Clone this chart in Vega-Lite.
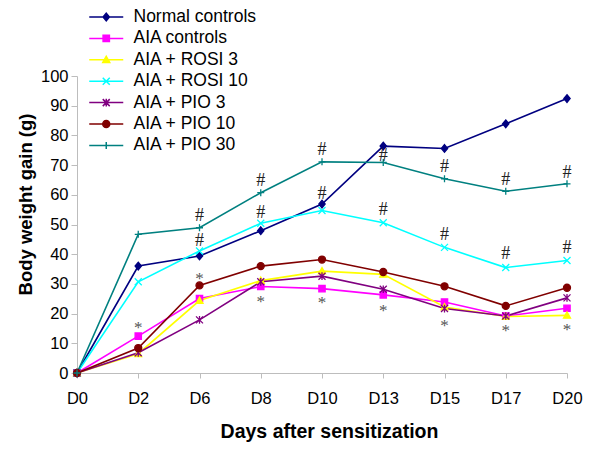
{
  "$schema": "https://vega.github.io/schema/vega-lite/v6.json",
  "autosize": {"type": "none"},
  "padding": {"left": 77, "top": 76, "right": 33, "bottom": 77},
  "width": 490,
  "height": 297,
  "background": "white",
  "config": {
    "view": {"stroke": null},
    "font": "Liberation Sans",
    "legend": {
      "orient": "none",
      "legendX": 20.5,
      "legendY": -67.75,
      "padding": 0,
      "labelFont": "Liberation Sans",
      "labelFontSize": 17.5,
      "labelColor": "#000000",
      "labelOffset": 18.5,
      "rowPadding": 2.4,
      "symbolSize": 49,
      "symbolStrokeWidth": 1.5,
      "symbolOpacity": 1
    }
  },
  "datasets": {
    "weights": [
      {"day": "D0", "series": "Normal controls", "value": 0},
      {"day": "D2", "series": "Normal controls", "value": 36.0},
      {"day": "D6", "series": "Normal controls", "value": 39.4},
      {"day": "D8", "series": "Normal controls", "value": 47.9},
      {"day": "D10", "series": "Normal controls", "value": 56.9},
      {"day": "D13", "series": "Normal controls", "value": 76.4},
      {"day": "D15", "series": "Normal controls", "value": 75.6},
      {"day": "D17", "series": "Normal controls", "value": 83.9},
      {"day": "D20", "series": "Normal controls", "value": 92.4},
      {"day": "D0", "series": "AIA controls", "value": 0},
      {"day": "D2", "series": "AIA controls", "value": 12.4},
      {"day": "D6", "series": "AIA controls", "value": 25.1},
      {"day": "D8", "series": "AIA controls", "value": 29.1},
      {"day": "D10", "series": "AIA controls", "value": 28.4},
      {"day": "D13", "series": "AIA controls", "value": 26.3},
      {"day": "D15", "series": "AIA controls", "value": 23.9},
      {"day": "D17", "series": "AIA controls", "value": 19.2},
      {"day": "D20", "series": "AIA controls", "value": 21.8},
      {"day": "D0", "series": "AIA + ROSI 3", "value": 0},
      {"day": "D2", "series": "AIA + ROSI 3", "value": 6.5},
      {"day": "D6", "series": "AIA + ROSI 3", "value": 24.4},
      {"day": "D8", "series": "AIA + ROSI 3", "value": 31.1},
      {"day": "D10", "series": "AIA + ROSI 3", "value": 34.3},
      {"day": "D13", "series": "AIA + ROSI 3", "value": 33.2},
      {"day": "D15", "series": "AIA + ROSI 3", "value": 22.2},
      {"day": "D17", "series": "AIA + ROSI 3", "value": 19.0},
      {"day": "D20", "series": "AIA + ROSI 3", "value": 19.4},
      {"day": "D0", "series": "AIA + ROSI 10", "value": 0},
      {"day": "D2", "series": "AIA + ROSI 10", "value": 30.7},
      {"day": "D6", "series": "AIA + ROSI 10", "value": 41.1},
      {"day": "D8", "series": "AIA + ROSI 10", "value": 50.4},
      {"day": "D10", "series": "AIA + ROSI 10", "value": 54.7},
      {"day": "D13", "series": "AIA + ROSI 10", "value": 50.6},
      {"day": "D15", "series": "AIA + ROSI 10", "value": 42.3},
      {"day": "D17", "series": "AIA + ROSI 10", "value": 35.5},
      {"day": "D20", "series": "AIA + ROSI 10", "value": 37.9},
      {"day": "D0", "series": "AIA + PIO 3", "value": 0},
      {"day": "D2", "series": "AIA + PIO 3", "value": 6.8},
      {"day": "D6", "series": "AIA + PIO 3", "value": 17.9},
      {"day": "D8", "series": "AIA + PIO 3", "value": 30.7},
      {"day": "D10", "series": "AIA + PIO 3", "value": 32.6},
      {"day": "D13", "series": "AIA + PIO 3", "value": 28.2},
      {"day": "D15", "series": "AIA + PIO 3", "value": 21.7},
      {"day": "D17", "series": "AIA + PIO 3", "value": 19.2},
      {"day": "D20", "series": "AIA + PIO 3", "value": 25.3},
      {"day": "D0", "series": "AIA + PIO 10", "value": 0},
      {"day": "D2", "series": "AIA + PIO 10", "value": 8.4},
      {"day": "D6", "series": "AIA + PIO 10", "value": 29.5},
      {"day": "D8", "series": "AIA + PIO 10", "value": 36.0},
      {"day": "D10", "series": "AIA + PIO 10", "value": 38.2},
      {"day": "D13", "series": "AIA + PIO 10", "value": 34.0},
      {"day": "D15", "series": "AIA + PIO 10", "value": 29.2},
      {"day": "D17", "series": "AIA + PIO 10", "value": 22.6},
      {"day": "D20", "series": "AIA + PIO 10", "value": 28.7},
      {"day": "D0", "series": "AIA + PIO 30", "value": 0},
      {"day": "D2", "series": "AIA + PIO 30", "value": 46.7},
      {"day": "D6", "series": "AIA + PIO 30", "value": 48.9},
      {"day": "D8", "series": "AIA + PIO 30", "value": 60.7},
      {"day": "D10", "series": "AIA + PIO 30", "value": 71.1},
      {"day": "D13", "series": "AIA + PIO 30", "value": 70.9},
      {"day": "D15", "series": "AIA + PIO 30", "value": 65.4},
      {"day": "D17", "series": "AIA + PIO 30", "value": 61.2},
      {"day": "D20", "series": "AIA + PIO 30", "value": 63.7}
    ],
    "hashes": [
      {"day": "D6", "value": 52.8, "label": "#"},
      {"day": "D6", "value": 44.5, "label": "#"},
      {"day": "D8", "value": 64.6, "label": "#"},
      {"day": "D8", "value": 54.0, "label": "#"},
      {"day": "D10", "value": 75.2, "label": "#"},
      {"day": "D10", "value": 60.3, "label": "#"},
      {"day": "D13", "value": 73.2, "label": "#"},
      {"day": "D13", "value": 55.0, "label": "#"},
      {"day": "D15", "value": 69.3, "label": "#"},
      {"day": "D15", "value": 46.6, "label": "#"},
      {"day": "D17", "value": 65.0, "label": "#"},
      {"day": "D17", "value": 39.9, "label": "#"},
      {"day": "D20", "value": 67.5, "label": "#"},
      {"day": "D20", "value": 42.1, "label": "#"}
    ],
    "stars": [
      {"day": "D2", "value": 16.0, "label": "*"},
      {"day": "D6", "value": 32.7, "label": "*"},
      {"day": "D8", "value": 24.9, "label": "*"},
      {"day": "D10", "value": 24.5, "label": "*"},
      {"day": "D13", "value": 22.0, "label": "*"},
      {"day": "D15", "value": 17.0, "label": "*"},
      {"day": "D17", "value": 15.0, "label": "*"},
      {"day": "D20", "value": 15.5, "label": "*"}
    ]
  },
  "encoding": {
    "x": {
      "field": "day",
      "type": "ordinal",
      "sort": null,
      "scale": {"type": "point", "padding": 0, "domain": ["D0", "D2", "D6", "D8", "D10", "D13", "D15", "D17", "D20"]},
      "axis": {
        "title": "Days after sensitization",
        "titleFont": "Liberation Sans",
        "titleFontSize": 19.5,
        "titleFontWeight": "bold",
        "titleColor": "#000000",
        "titleX": 252,
        "titleY": 49,
        "labelAngle": 0,
        "labelFontSize": 16.5,
        "labelColor": "#000000",
        "labelPadding": 12,
        "labelDx": 4,
        "tickSize": 5,
        "tickColor": "#bdbdbd",
        "domainColor": "#bdbdbd",
        "grid": false
      }
    },
    "y": {
      "field": "value",
      "type": "quantitative",
      "scale": {"domain": [0, 100], "nice": false},
      "axis": {
        "title": "Body weight gain (g)",
        "titleFont": "Liberation Sans",
        "titleFontSize": 18.5,
        "titleFontWeight": "bold",
        "titleColor": "#000000",
        "titleBaseline": "middle",
        "titleX": -52,
        "titleY": 128,
        "values": [0, 10, 20, 30, 40, 50, 60, 70, 80, 90, 100],
        "labelFontSize": 16.5,
        "labelColor": "#000000",
        "labelPadding": 3,
        "tickSize": 6,
        "tickColor": "#bdbdbd",
        "domainColor": "#bdbdbd",
        "grid": false
      }
    }
  },
  "layer": [
    {
      "data": {"name": "weights"},
      "mark": {"type": "line", "strokeWidth": 1.6},
      "encoding": {
        "stroke": {
          "field": "series",
          "type": "nominal",
          "scale": {
            "domain": ["Normal controls", "AIA controls", "AIA + ROSI 3", "AIA + ROSI 10", "AIA + PIO 3", "AIA + PIO 10", "AIA + PIO 30"],
            "range": ["#000080", "#ff00ff", "#ffff00", "#00ffff", "#800080", "#800000", "#008080"]
          },
          "legend": null
        }
      }
    },
    {
      "data": {"name": "weights"},
      "mark": {"type": "point", "filled": true, "opacity": 1, "size": 49, "strokeWidth": 1.3},
      "encoding": {
        "fill": {
          "field": "series",
          "type": "nominal",
          "scale": {
            "domain": ["Normal controls", "AIA controls", "AIA + ROSI 3", "AIA + ROSI 10", "AIA + PIO 3", "AIA + PIO 10", "AIA + PIO 30"],
            "range": ["#000080", "#ff00ff", "#ffff00", "#00ffff", "#800080", "#800000", "#008080"]
          },
          "legend": null
        },
        "stroke": {
          "field": "series",
          "type": "nominal",
          "scale": {
            "domain": ["Normal controls", "AIA controls", "AIA + ROSI 3", "AIA + ROSI 10", "AIA + PIO 3", "AIA + PIO 10", "AIA + PIO 30"],
            "range": ["#000080", "#ff00ff", "#ffff00", "#00ffff", "#800080", "#800000", "#008080"]
          },
          "legend": null
        },
        "shape": {
          "field": "series",
          "type": "nominal",
          "scale": {
            "domain": ["Normal controls", "AIA controls", "AIA + ROSI 3", "AIA + ROSI 10", "AIA + PIO 3", "AIA + PIO 10", "AIA + PIO 30"],
            "range": [
              "M0,-1.1L0.9,0L0,1.1L-0.9,0Z",
              "M-0.9,-0.9H0.9V0.9H-0.9Z",
              "M0,-1L1,0.8H-1Z",
              "M-1,-1L1,1M-1,1L1,-1",
              "M-1,-1L1,1M-1,1L1,-1M0,-1.1V1.1",
              "M-1,0A1,1 0 1,0 1,0A1,1 0 1,0 -1,0Z",
              "M0,-1V1M-1,0H1"
            ]
          },
          "legend": null
        }
      }
    },
    {
      "data": {"values": []},
      "mark": {"type": "point", "filled": true, "opacity": 1, "size": 49, "strokeWidth": 1.5},
      "encoding": {
        "fill": {
          "field": "series",
          "type": "nominal",
          "scale": {
            "domain": ["Normal controls", "AIA controls", "AIA + ROSI 3", "AIA + ROSI 10", "AIA + PIO 3", "AIA + PIO 10", "AIA + PIO 30"],
            "range": ["#000080", "#ff00ff", "#ffff00", "#00ffff", "#800080", "#800000", "#008080"]
          },
          "legend": {"title": null}
        },
        "stroke": {
          "field": "series",
          "type": "nominal",
          "scale": {
            "domain": ["Normal controls", "AIA controls", "AIA + ROSI 3", "AIA + ROSI 10", "AIA + PIO 3", "AIA + PIO 10", "AIA + PIO 30"],
            "range": ["#000080", "#ff00ff", "#ffff00", "#00ffff", "#800080", "#800000", "#008080"]
          },
          "legend": {"title": null}
        },
        "shape": {
          "field": "series",
          "type": "nominal",
          "scale": {
            "domain": ["Normal controls", "AIA controls", "AIA + ROSI 3", "AIA + ROSI 10", "AIA + PIO 3", "AIA + PIO 10", "AIA + PIO 30"],
            "range": [
              "M-4.86,0H4.86M0,-1.1L0.9,0L0,1.1L-0.9,0Z",
              "M-4.86,0H4.86M-0.9,-0.9H0.9V0.9H-0.9Z",
              "M-4.86,0H4.86M0,-1L1,0.8H-1Z",
              "M-4.86,0H4.86M-1,-1L1,1M-1,1L1,-1",
              "M-4.86,0H4.86M-1,-1L1,1M-1,1L1,-1M0,-1.1V1.1",
              "M-4.86,0H4.86M-1,0A1,1 0 1,0 1,0A1,1 0 1,0 -1,0Z",
              "M-4.86,0H4.86M0,-1V1"
            ]
          },
          "legend": {"title": null}
        }
      }
    },
    {
      "data": {"name": "hashes"},
      "mark": {"type": "text", "font": "Liberation Serif", "fontSize": 18, "color": "#222222", "baseline": "middle", "align": "center"},
      "encoding": {"text": {"field": "label"}}
    },
    {
      "data": {"name": "stars"},
      "mark": {"type": "text", "font": "Liberation Serif", "fontSize": 17, "color": "#555555", "baseline": "middle", "align": "center", "dy": 3},
      "encoding": {"text": {"field": "label"}}
    }
  ],
  "resolve": {"scale": {"fill": "independent", "stroke": "independent", "shape": "independent"}}
}
